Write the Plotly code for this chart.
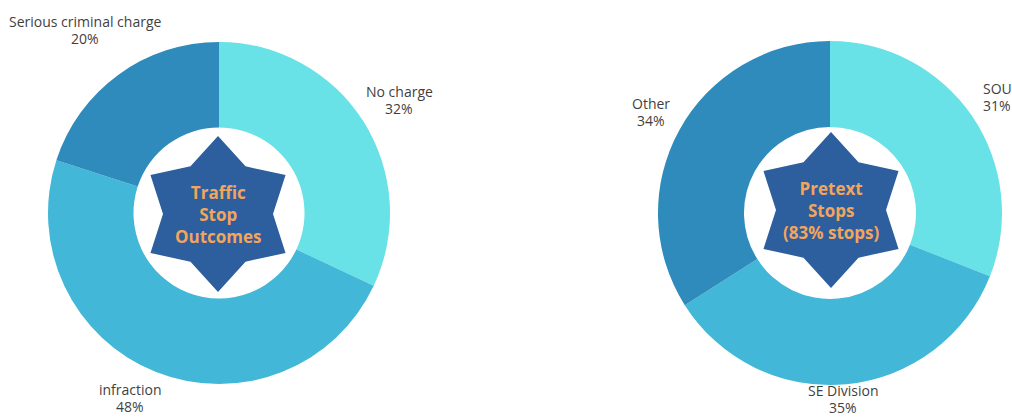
import math
import plotly.graph_objects as go

W, H = 1012, 418

# Data
outcome_labels = ["No charge", "infraction", "Serious criminal charge"]
outcome_values = [32, 48, 20]
pretext_labels = ["SOU", "SE Division", "Other"]
pretext_values = [31, 35, 34]
center_titles = ["Traffic<br>Stop<br>Outcomes", "Pretext<br>Stops<br>(83% stops)"]

slice_colors = ["#68e1e7", "#43b7d7", "#2e8bbb"]
star_color = "#2d5e9d"
title_color = "#f2a55c"
label_color = "#3f3f3f"

# Donut geometry in pixels (centre x, centre y from top, outer radius)
donuts = [(219, 213, 171), (830, 213, 172)]


def px_domain(cx, cy, r):
    return dict(x=[(cx - r) / W, (cx + r) / W],
                y=[(H - cy - r) / H, (H - cy + r) / H])


fig = go.Figure()

for (cx, cy, r), labels, values in zip(donuts, [outcome_labels, pretext_labels],
                                       [outcome_values, pretext_values]):
    fig.add_trace(go.Pie(
        labels=labels, values=values, hole=0.5, sort=False,
        direction="clockwise", rotation=0,
        marker=dict(colors=slice_colors, line=dict(width=0)),
        textinfo="none", hoverinfo="label+percent", showlegend=False,
        domain=px_domain(cx, cy, r),
    ))


def star_path(cx, cy, r_out, r_in):
    xs, ys = [], []
    for k in range(12):
        ang = math.radians(90 + 30 * k)
        rr = r_out if k % 2 == 0 else r_in
        xs.append(cx + rr * math.cos(ang))
        ys.append(cy - rr * math.sin(ang))
    xs.append(xs[0]); ys.append(ys[0])
    return xs, ys


star_specs = [(218, 214, 78, 55), (831, 210, 78, 55)]
for (sx, sy, ro, ri) in star_specs:
    xs, ys = star_path(sx, sy, ro, ri)
    fig.add_trace(go.Scatter(x=xs, y=ys, mode="lines", fill="toself",
                             fillcolor=star_color, line=dict(width=0),
                             hoverinfo="skip", showlegend=False))

for (sx, sy, _, _), title in zip(star_specs, center_titles):
    fig.add_annotation(x=sx, y=sy, xref="x", yref="y", text=title,
                       showarrow=False, align="center",
                       font=dict(family="Open Sans", size=17, color=title_color,
                                 weight="bold"))

# Slice labels: name line and percentage line
slice_label_pos = [
    ("Serious criminal charge", outcome_values[2], 85, 21),
    ("No charge", outcome_values[0], 399, 91),
    ("infraction", outcome_values[1], 130, 389),
    ("Other", pretext_values[2], 651, 103),
    ("SOU", pretext_values[0], 997, 88),
    ("SE Division", pretext_values[1], 843, 390),
]
for name, pct, lx, ly in slice_label_pos:
    for txt, yy in ((name, ly), (f"{pct}%", ly + 17)):
        fig.add_annotation(x=lx, y=yy, xref="x", yref="y",
                           text=txt, showarrow=False, align="center",
                           borderpad=0,
                           font=dict(family="Open Sans", size=14, color=label_color))

fig.update_layout(
    width=W, height=H, margin=dict(l=0, r=0, t=0, b=0),
    paper_bgcolor="white", plot_bgcolor="rgba(0,0,0,0)",
    xaxis=dict(range=[0, W], visible=False, fixedrange=True),
    yaxis=dict(range=[H, 0], visible=False, fixedrange=True),
)

fig.write_html("out.html")
